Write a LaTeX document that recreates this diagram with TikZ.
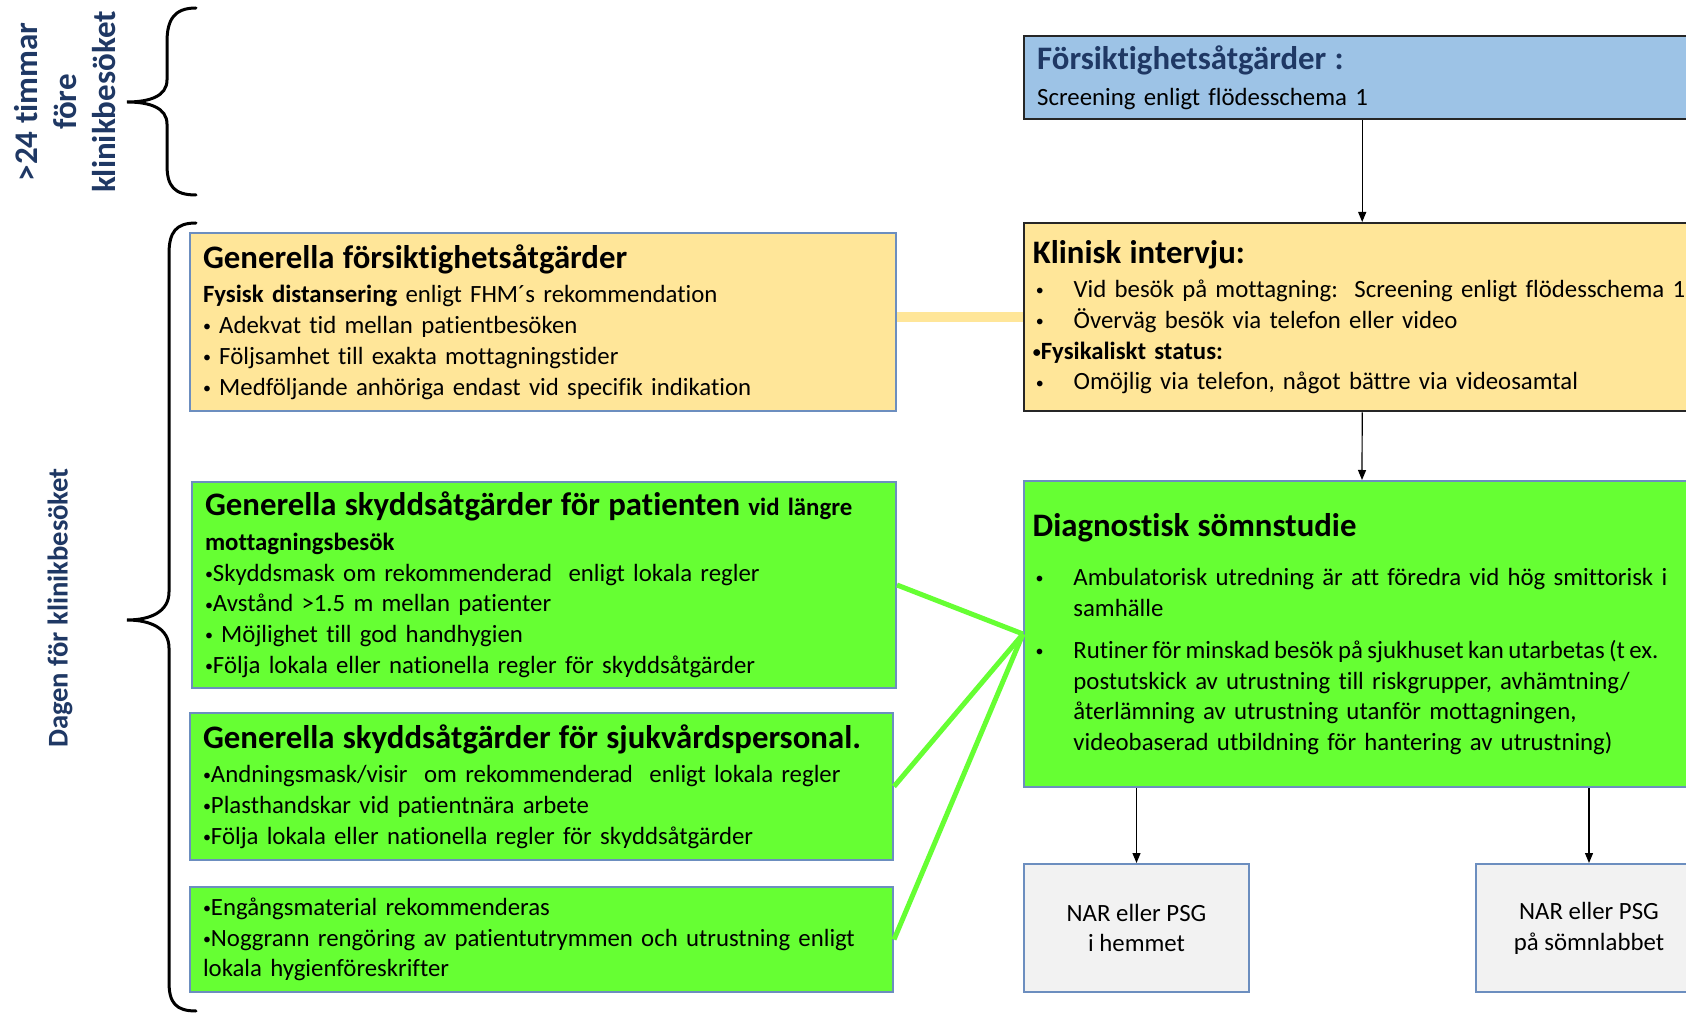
\documentclass[tikz,border=0pt]{standalone}
\usepackage{fontspec}
\setmainfont{Carlito}[Ligatures=NoCommon]
\usepackage{tikz}
\usetikzlibrary{arrows.meta,positioning}
\definecolor{SomnNavy}{HTML}{1F3864}
\definecolor{SomnGul}{HTML}{FFE699}
\definecolor{SomnGron}{HTML}{66FF33}
\definecolor{SomnBla}{HTML}{9DC3E6}
\definecolor{SomnGra}{HTML}{F2F2F2}
\definecolor{SomnKant}{HTML}{6C8EBF}
\definecolor{SomnMork}{HTML}{262626}
\newcommand{\brodtext}{\fontsize{12.4}{15.4}\selectfont}
\newcommand{\rubrik}[1]{{\fontsize{16.4}{17}\selectfont\bfseries #1}}
\newcommand{\bul}{\raisebox{0.9pt}{\fontsize{8}{8}\selectfont •}}
\newcommand{\punkt}{\hspace*{1.5pt}\makebox[18.9pt][l]{\bul}}
\newcommand{\indrag}{\hspace*{20.4pt}}
\tikzset{
  ruta/.style={draw=SomnKant,line width=1pt,anchor=north west,align=left,
    inner xsep=6.5pt,inner ysep=0pt,font=\brodtext},
  mork/.style={draw=SomnMork,line width=1.2pt,inner xsep=4.3pt},
  sidtext/.style={rotate=90,text=SomnNavy,align=center},
  klammer/.style={line width=1.5pt,line cap=round},
  pil/.style={line width=0.6pt,-{Triangle[length=5pt,width=4pt]}},
  gronlank/.style={draw=SomnGron,line width=2.5pt},
  gullank/.style={draw=SomnGul,line width=5pt}
}

\begin{document}
\begin{tikzpicture}[x=0.5pt,y=-0.5pt]
  \useasboundingbox (0,0) rectangle (1686,1015);
  \fill[white] (0,0) rectangle (1686,1015);

  % tidsangivelser till vänster
  \node[sidtext,font=\fontsize{16.5}{19.3}\selectfont\bfseries] (fore) at (65,102)
    {>24 timmar\\före\\klinikbesöket};
  \node[sidtext,font=\fontsize{14.3}{17}\selectfont\bfseries] (dagen) at (60,608)
    {Dagen för klinikbesöket};

  % klamrar
  \draw[klammer] (196,8) .. controls (174,8) and (167,20) .. (167,42) -- (167,80)
    .. controls (167,96) and (150,102) .. (127,102)
    .. controls (150,102) and (167,108) .. (167,124) -- (167,165)
    .. controls (167,186) and (174,195) .. (196,195);
  \draw[klammer] (196,223) .. controls (176,223) and (169,232) .. (169,254) -- (169,592)
    .. controls (169,612) and (150,620) .. (127,620)
    .. controls (150,620) and (169,628) .. (169,648) -- (169,982)
    .. controls (169,1003) and (176,1011) .. (196,1011);

  % vänstra kolumnen
  \node[ruta,fill=SomnGul,text width=340pt,minimum height=89pt] (allm) at (189,232)
    {\rubrik{Generella försiktighetsåtgärder}\\[2pt]
     \textbf{Fysisk distansering} enligt FHM´s rekommendation\\
     \bul\ Adekvat tid mellan patientbesöken\\
     \bul\ Följsamhet till exakta mottagningstider\\
     \bul\ Medföljande anhöriga endast vid specifik indikation};
  \node[ruta,fill=SomnGron,text width=339pt,minimum height=103pt] (patient) at (191,481)
    {\rubrik{Generella skyddsåtgärder för patienten} \textbf{vid längre}\\[1.8pt]
     \textbf{mottagningsbesök}\\
     \bul Skyddsmask om rekommenderad\ \ enligt lokala regler\\
     \bul Avstånd >1.5 m mellan patienter\\
     \bul\ Möjlighet till god handhygien\\
     \bul Följa lokala eller nationella regler för skyddsåtgärder};
  \node[ruta,fill=SomnGron,text width=338.5pt,minimum height=73.5pt] (personal) at (189,712)
    {\rubrik{Generella skyddsåtgärder för sjukvårdspersonal.}\\[1.8pt]
     \bul Andningsmask/visir\ \ om rekommenderad\ \ enligt lokala regler\\
     \bul Plasthandskar vid patientnära arbete\\
     \bul Följa lokala eller nationella regler för skyddsåtgärder};
  \node[ruta,fill=SomnGron,text width=338.5pt,minimum height=52.5pt] (material) at (189,886)
    {\bul Engångsmaterial rekommenderas\\
     \bul Noggrann rengöring av patientutrymmen och utrustning enligt\\
     lokala hygienföreskrifter};

  % högra kolumnen
  \node[ruta,mork,fill=SomnBla,inner xsep=6.5pt,text width=325pt,minimum height=41.5pt] (forsikt) at (1023,35)
    {{\color{SomnNavy}\rubrik{Försiktighetsåtgärder :}}\\[2.3pt]
     Screening enligt flödesschema 1};
  \node[ruta,mork,fill=SomnGul,text width=329.4pt,minimum height=94pt] (klin) at (1023,222)
    {\rubrik{Klinisk intervju:}\\[1.8pt]
     \punkt\mbox{Vid besök på mottagning:\ \ Screening enligt flödesschema 1}\\
     \punkt Överväg besök via telefon eller video\\
     \textbf{\bul Fysikaliskt status:}\\
     \punkt Omöjlig via telefon, något bättre via videosamtal};
  \node[ruta,fill=SomnGron,inner xsep=4.3pt,text width=329.4pt,minimum height=153pt] (diag) at (1023,480)
    {\rubrik{Diagnostisk sömnstudie}\\[9.3pt]
     \punkt\mbox{Ambulatorisk utredning är att föredra vid hög smittorisk i}\\
     \indrag samhälle\\[5.6pt]
     \punkt\mbox{\spaceskip=0.8\fontdimen2\font Rutiner för minskad besök på sjukhuset kan utarbetas (t ex.}\\
     \indrag postutskick av utrustning till riskgrupper, avhämtning/\\
     \indrag återlämning av utrustning utanför mottagningen,\\
     \indrag videobaserad utbildning för hantering av utrustning)\\[4pt]};
  \node[ruta,fill=SomnGra,align=center,minimum width=112.5pt,minimum height=64pt] (hem) at (1023,863)
    {NAR eller PSG\\i hemmet};
  \node[ruta,fill=SomnGra,align=center,minimum width=113pt,minimum height=64pt] (lab) at (1475,863)
    {NAR eller PSG\\på sömnlabbet};

  % kopplingar
  \draw[gullank] (allm.east |- klin.west) -- (klin.west);
  \draw[gronlank] (patient.east) -- (diag.west);
  \draw[gronlank] (personal.east) -- (diag.west);
  \draw[gronlank] (material.east) -- (diag.west);
  \draw[pil] (forsikt.south) -- (klin.north);
  \draw[pil] (klin.south) -- (diag.north);
  \draw[pil] (diag.south -| hem.north) -- (hem.north);
  \draw[pil] (diag.south -| lab.north) -- (lab.north);
\end{tikzpicture}
\end{document}
